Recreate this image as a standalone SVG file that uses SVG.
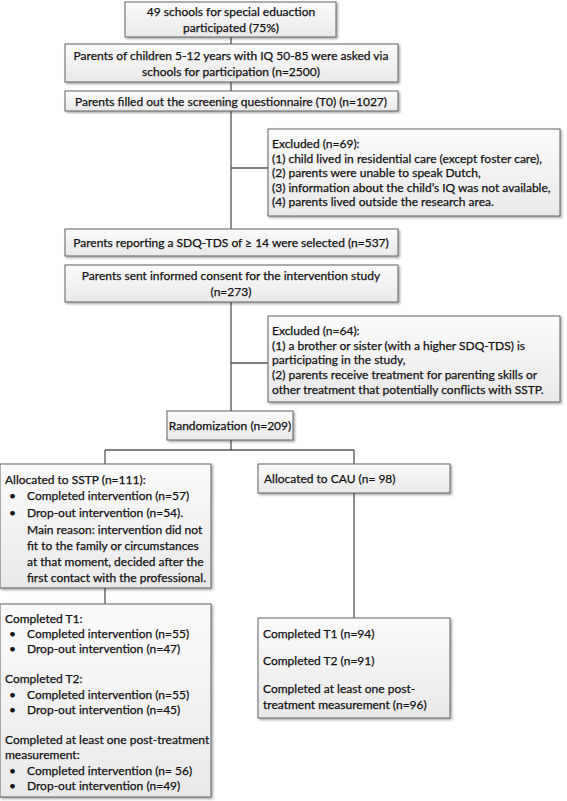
<svg xmlns="http://www.w3.org/2000/svg" width="567" height="801" viewBox="0 0 567 801">
<defs>
<linearGradient id="g" x1="0" y1="0" x2="0" y2="1">
<stop offset="0" stop-color="#fbfbfb"/>
<stop offset="1" stop-color="#e9e9e9"/>
</linearGradient>
<filter id="sh" x="-5%" y="-5%" width="115%" height="120%">
<feDropShadow dx="1.5" dy="1.5" stdDeviation="0.8" flood-color="#000" flood-opacity="0.35"/>
</filter>
</defs>
<style>
.b{fill:url(#g);stroke:#606060;stroke-width:1;filter:url(#sh)}
.t{font-family:Lato,"Liberation Sans",sans-serif;font-size:12px;fill:#111;stroke:#111;stroke-width:0.25}
.c{text-anchor:middle}
.l{fill:none;stroke:#555;stroke-width:1.3}
</style>
<rect width="567" height="801" fill="#fff"/>
<g id="connectors">
<path class="l" d="M231,37V44M231,82V91M231,111V229M231,168H268M231,302V411M231,363H268M231,440V450M105,450H354M105,450V464M354,450V464M105,588V604M354,493V618"/>
</g>
<g id="n1"><rect class="b" x="125" y="2" width="211" height="35"/>
<text class="t c" x="231" y="16">49 schools for special eduaction</text>
<text class="t c" x="231" y="32">participated (75%)</text></g>
<g id="n2"><rect class="b" x="65" y="44" width="333" height="38"/>
<text class="t c" x="231" y="60">Parents of children 5-12 years with IQ 50-85 were asked via</text>
<text class="t c" x="231" y="76">schools for participation (n=2500)</text></g>
<g id="n3"><rect class="b" x="65" y="91" width="333" height="20"/>
<text class="t c" x="231" y="105.5">Parents filled out the screening questionnaire (T0) (n=1027)</text></g>
<g id="n4"><rect class="b" x="268" y="129" width="292" height="87"/>
<text class="t" x="272" y="148">Excluded (n=69):</text>
<text class="t" x="272" y="162.5">(1) child lived in residential care (except foster care),</text>
<text class="t" x="272" y="177">(2) parents were unable to speak Dutch,</text>
<text class="t" x="272" y="191.5">(3) information about the child’s IQ was not available,</text>
<text class="t" x="272" y="206">(4) parents lived outside the research area.</text></g>
<g id="n5"><rect class="b" x="65" y="229" width="333" height="27"/>
<text class="t c" x="231" y="247">Parents reporting a SDQ-TDS of ≥ 14 were selected (n=537)</text></g>
<g id="n6"><rect class="b" x="65" y="265" width="333" height="37"/>
<text class="t c" x="231" y="280">Parents sent informed consent for the intervention study</text>
<text class="t c" x="231" y="296">(n=273)</text></g>
<g id="n7"><rect class="b" x="268" y="316" width="292" height="86"/>
<text class="t" x="272" y="335">Excluded (n=64):</text>
<text class="t" x="272" y="350">(1) a brother or sister (with a higher SDQ-TDS) is</text>
<text class="t" x="272" y="364">participating in the study,</text>
<text class="t" x="272" y="379">(2) parents receive treatment for parenting skills or</text>
<text class="t" x="272" y="394">other treatment that potentially conflicts with SSTP.</text></g>
<g id="n8"><rect class="b" x="167" y="411" width="126" height="29"/>
<text class="t c" x="230" y="429.5">Randomization (n=209)</text></g>
<g id="n9"><rect class="b" x="0" y="464" width="211" height="124"/>
<text class="t" x="5" y="483.5">Allocated to SSTP (n=111):</text>
<text class="t" x="9" y="500">•</text><text class="t" x="27" y="500">Completed intervention (n=57)</text>
<text class="t" x="9" y="517">•</text><text class="t" x="27" y="517">Drop-out intervention (n=54).</text>
<text class="t" x="27" y="534">Main reason: intervention did not</text>
<text class="t" x="27" y="550">fit to the family or circumstances</text>
<text class="t" x="27" y="566">at that moment, decided after the</text>
<text class="t" x="27" y="582">first contact with the professional.</text></g>
<g id="n10"><rect class="b" x="258" y="464" width="192" height="29"/>
<text class="t" x="264" y="483">Allocated to CAU (n= 98)</text></g>
<g id="n11"><rect class="b" x="0" y="604" width="211" height="193"/>
<text class="t" x="5" y="622.5">Completed T1:</text>
<text class="t" x="9" y="637.7">•</text><text class="t" x="27" y="637.7">Completed intervention (n=55)</text>
<text class="t" x="9" y="652.9">•</text><text class="t" x="27" y="652.9">Drop-out intervention (n=47)</text>
<text class="t" x="5" y="683.3">Completed T2:</text>
<text class="t" x="9" y="698.5">•</text><text class="t" x="27" y="698.5">Completed intervention (n=55)</text>
<text class="t" x="9" y="713.7">•</text><text class="t" x="27" y="713.7">Drop-out intervention (n=45)</text>
<text class="t" x="5" y="744.1">Completed at least one post-treatment</text>
<text class="t" x="5" y="759.3">measurement:</text>
<text class="t" x="9" y="774.5">•</text><text class="t" x="27" y="774.5">Completed intervention (n= 56)</text>
<text class="t" x="9" y="789.7">•</text><text class="t" x="27" y="789.7">Drop-out intervention (n=49)</text></g>
<g id="n12"><rect class="b" x="258" y="618" width="192" height="100"/>
<text class="t" x="263" y="638">Completed T1 (n=94)</text>
<text class="t" x="263" y="665">Completed T2 (n=91)</text>
<text class="t" x="263" y="693">Completed at least one post-</text>
<text class="t" x="263" y="709">treatment measurement (n=96)</text></g>
</svg>
